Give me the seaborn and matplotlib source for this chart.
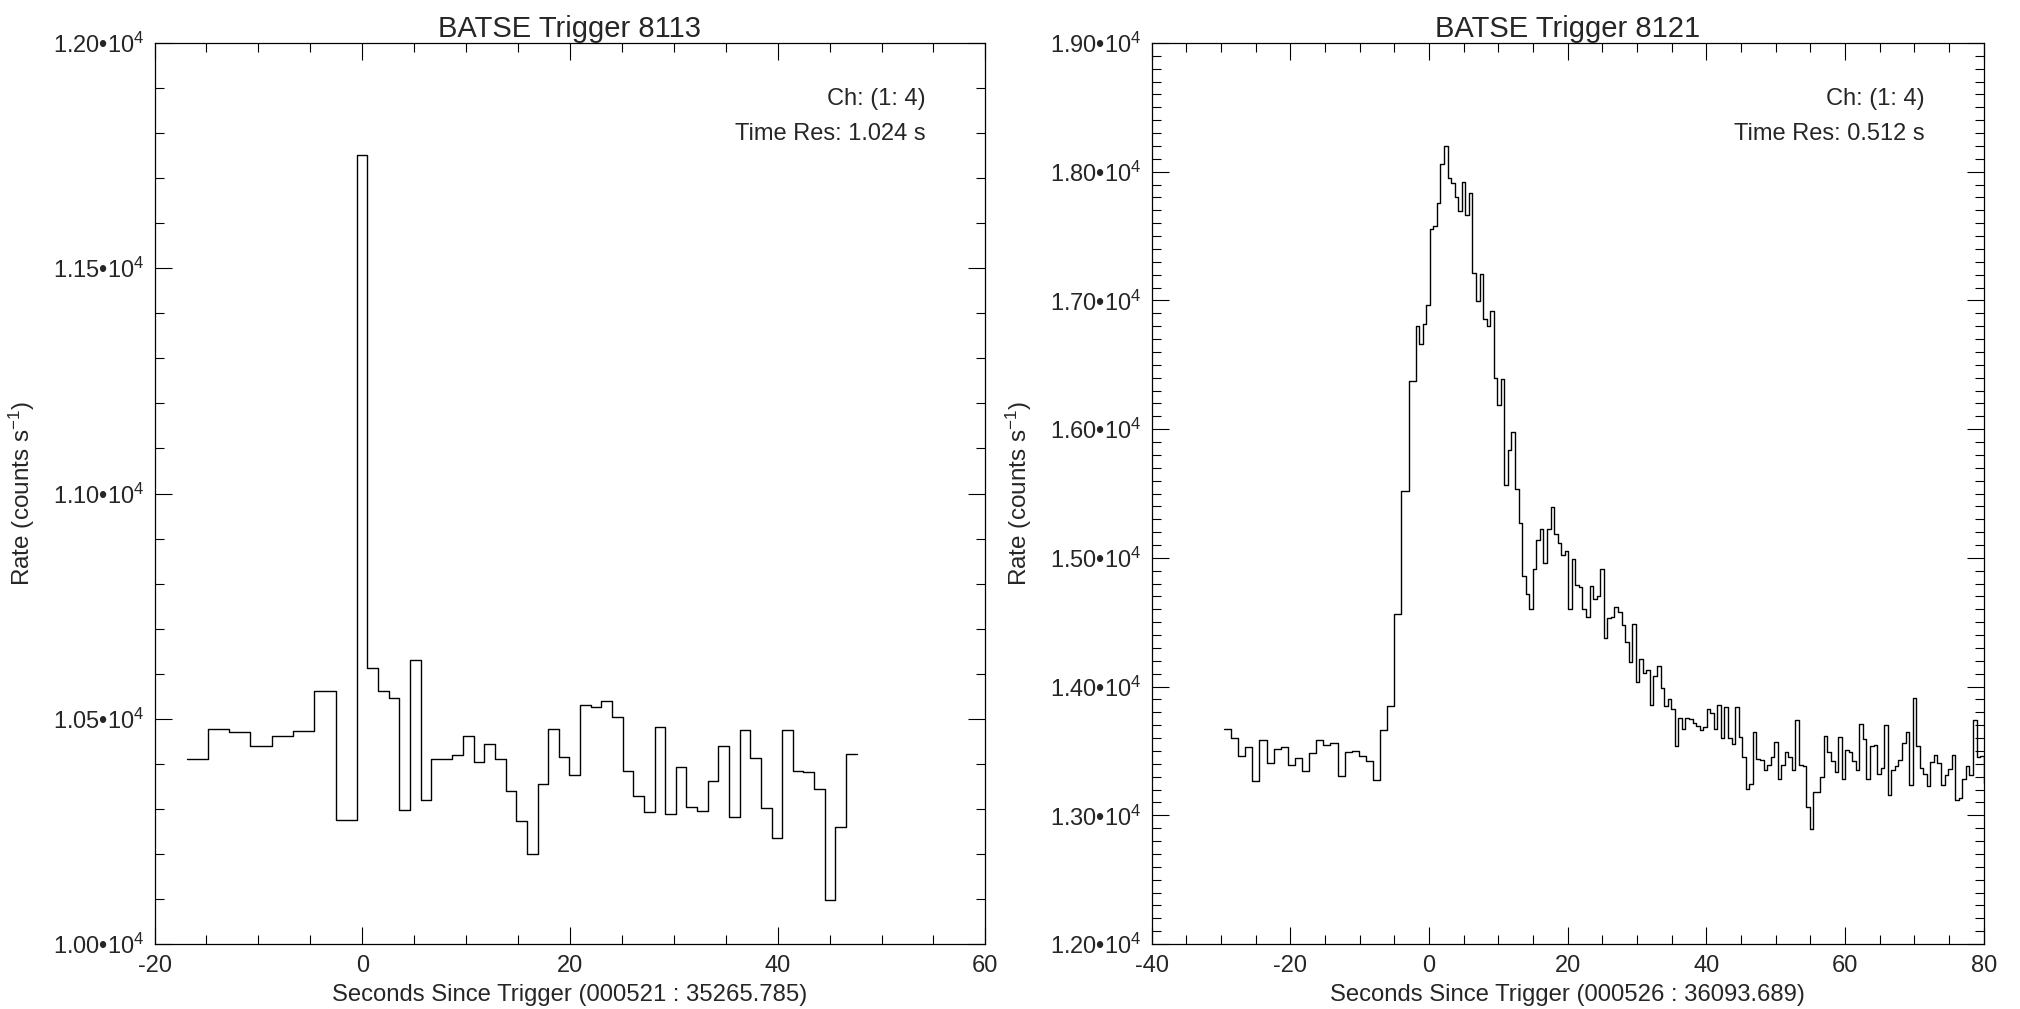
import numpy as np
import pandas as pd
import matplotlib
matplotlib.use('Agg')
import matplotlib.pyplot as plt
import seaborn as sns
from matplotlib.ticker import MultipleLocator, FuncFormatter

# ---------------- data ----------------
# Trigger 8113 : pre-trigger bins 2.048 s, after that 1.024 s
t0_8113 = -16.91
pre_8113 = [10411, 10478, 10471, 10440, 10462, 10473, 10561, 10275]
post_8113 = [11751, 10613, 10561, 10547, 10297, 10630, 10320, 10411, 10411, 10419,
             10461, 10405, 10443, 10410, 10340, 10272, 10200, 10356, 10478, 10416,
             10375, 10531, 10526, 10539, 10505, 10383, 10329, 10293, 10482, 10289,
             10394, 10305, 10295, 10362, 10440, 10282, 10474, 10414, 10303, 10235,
             10474, 10384, 10382, 10344, 10097, 10260, 10421]

# Trigger 8121 : pre-trigger bins 1.024 s, after that 0.512 s
t0_8121 = -29.57
pre_8121 = [13671, 13601, 13458, 13533, 13264, 13583, 13404, 13513, 13533, 13391,
            13445, 13344, 13484, 13588, 13546, 13564, 13305, 13492, 13502, 13461,
            13419, 13277, 13663, 13849, 14567, 15522, 16375]
post_8121 = [16804, 16662, 16820, 16963, 17556, 17576, 17755, 18061, 18203, 17954,
             17916, 17807, 17695, 17918, 17662, 17833, 17211, 16996, 17208, 16856,
             16799, 16916, 16400, 16188, 16387, 15566, 15836, 15981, 15535, 15274,
             14862, 14720, 14603, 14911, 15142, 15225, 14963, 15227, 15398, 15183,
             15113, 15020, 15056, 14603, 14991, 14789, 14776, 14606, 14538, 14779,
             14681, 14707, 14911, 14378, 14530, 14543, 14616, 14580, 14476, 14347,
             14189, 14484, 14033, 14212, 14103, 14129, 13854, 14080, 14157, 13987,
             13847, 13901, 13826, 13538, 13753, 13671, 13753, 13746, 13715, 13696,
             13663, 13689, 13823, 13792, 13671, 13860, 13598, 13844, 13601, 13554,
             13844, 13608, 13453, 13207, 13241, 13647, 13437, 13430, 13355, 13393,
             13453, 13567, 13282, 13393, 13489, 13453, 13349, 13743, 13388, 13386,
             13062, 12894, 13178, 13184, 13300, 13619, 13494, 13419, 13339, 13608,
             13282, 13505, 13494, 13419, 13349, 13707, 13593, 13285, 13541, 13544,
             13321, 13365, 13702, 13160, 13349, 13383, 13430, 13562, 13645, 13233,
             13909, 13541, 13370, 13324, 13230, 13414, 13466, 13409, 13235, 13311,
             13357, 13471, 13119, 13132, 13282, 13380, 13313, 13743, 13453, 13463,
             13250]

panels = [
    dict(title='BATSE Trigger 8113', t0=t0_8113, pre=pre_8113, dt_pre=2.048,
         post=post_8113, dt_post=1.024, xlim=(-20, 60), ylim=(10000, 12000),
         ymajor=500, res='Time Res: 1.024 s',
         xlabel='Seconds Since Trigger (000521 : 35265.785)'),
    dict(title='BATSE Trigger 8121', t0=t0_8121, pre=pre_8121, dt_pre=1.024,
         post=post_8121, dt_post=0.512, xlim=(-40, 80), ylim=(12000, 19000),
         ymajor=1000, res='Time Res: 0.512 s',
         xlabel='Seconds Since Trigger (000526 : 36093.689)'),
]


def step_frame(t0, pre, dt_pre, post, dt_post):
    t_pre = t0 + np.arange(len(pre)) * dt_pre
    t_post = t0 + len(pre) * dt_pre + np.arange(len(post) + 1) * dt_post
    rate = list(pre) + list(post) + [post[-1]]
    return pd.DataFrame({'t': np.concatenate([t_pre, t_post]), 'rate': rate})


def sci_fmt(v, pos):
    return '%.2f\u202210$^{4}$' % (v / 1e4)


sns.set_style('ticks')
plt.rcParams['font.family'] = ['Liberation Sans', 'DejaVu Sans']
plt.rcParams['mathtext.fontset'] = 'custom'
plt.rcParams['mathtext.rm'] = 'Liberation Sans'
plt.rcParams['mathtext.it'] = 'Liberation Sans'
plt.rcParams['mathtext.bf'] = 'Liberation Sans'
plt.rcParams['axes.unicode_minus'] = False

fig = plt.figure(figsize=(20.2, 10.09), dpi=100)
axes = [fig.add_axes([0.0765, 0.0644, 0.4113, 0.893]),
        fig.add_axes([0.5701, 0.0644, 0.4119, 0.893])]

for ax, p in zip(axes, panels):
    df = step_frame(p['t0'], p['pre'], p['dt_pre'], p['post'], p['dt_post'])
    sns.lineplot(data=df, x='t', y='rate', drawstyle='steps-post', color='black',
                 linewidth=1.0, estimator=None, sort=False, ax=ax)
    ax.set_xlim(*p['xlim'])
    ax.set_ylim(*p['ylim'])
    ax.xaxis.set_major_locator(MultipleLocator(20))
    ax.xaxis.set_minor_locator(MultipleLocator(5))
    ax.yaxis.set_major_locator(MultipleLocator(p['ymajor']))
    ax.yaxis.set_minor_locator(MultipleLocator(100))
    ax.xaxis.set_major_formatter(FuncFormatter(lambda v, pos: '%d' % round(v)))
    ax.yaxis.set_major_formatter(FuncFormatter(sci_fmt))
    ax.tick_params(which='both', direction='in', top=True, right=True,
                   width=0.8, color='black')
    ax.tick_params(which='major', length=12, labelsize=17, pad=7)
    ax.tick_params(axis='x', which='major', pad=8)
    ax.tick_params(which='minor', length=6.5)
    for s in ax.spines.values():
        s.set_linewidth(0.9)
        s.set_color('black')
    ax.set_title(p['title'], fontsize=21, pad=4)
    ax.set_xlabel(p['xlabel'], fontsize=17.2)
    ax.set_ylabel('Rate (counts s$^{-1}$)', fontsize=17.5)
    ax.xaxis.set_label_coords(0.5, -0.044)
    ax.yaxis.set_label_coords(-0.1415, 0.5)
    ax.text(0.9285, 0.938, 'Ch: (1: 4)', transform=ax.transAxes, ha='right',
            va='center', fontsize=17)
    ax.text(0.9285, 0.899, p['res'], transform=ax.transAxes, ha='right',
            va='center', fontsize=17)

fig.savefig('out.png', dpi=100)
